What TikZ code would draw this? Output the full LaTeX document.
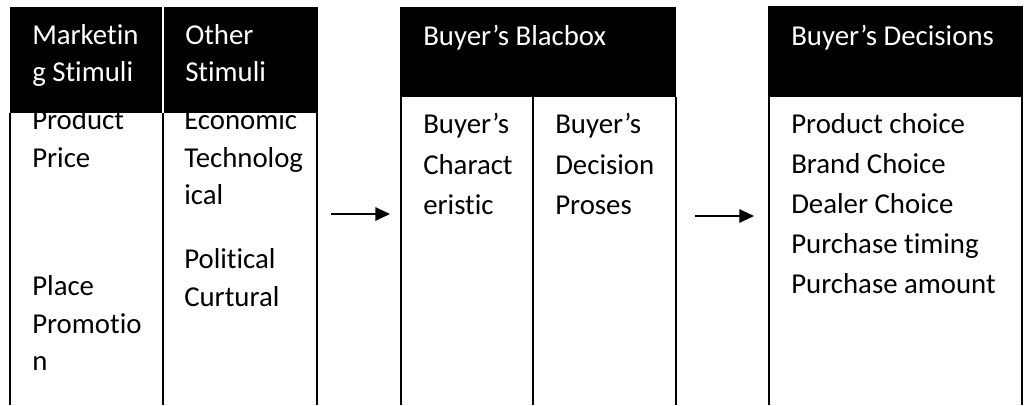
\documentclass[tikz,border=0pt]{standalone}
\usepackage{fontspec}
\setmainfont[Ligatures=CommonOff]{Carlito}
\usetikzlibrary{arrows.meta}
\begin{document}
\begin{tikzpicture}[x=0.75pt,y=-0.75pt,
  hdr/.style={fill=black},
  rulel/.style={line width=1.5pt,draw=black},
  hsep/.style={line width=1.5pt,draw=white},
  txt/.style={anchor=base west,inner sep=0pt,font=\fontsize{21.6}{26}\selectfont},
  htxt/.style={txt,text=white},
  btxt/.style={txt,text=black},
  flow/.style={line width=1.5pt,-{Triangle[length=11pt,width=10pt]}}
]
\useasboundingbox (0,0) rectangle (1024,405);

% ---- body texts (left table)
\node[btxt] (m1) at (32,129) {Product};
\node[btxt] (m2) at (32,167) {Price};
\node[btxt] (m3) at (32,295) {Place};
\node[btxt] (m4) at (32,333) {Promotio};
\node[btxt] (m5) at (32,370) {n};
\node[btxt] (o1) at (184,129) {Economic};
\node[btxt] (o2) at (184,167) {Technolog};
\node[btxt] (o3) at (184,204) {ical};
\node[btxt] (o4) at (184,268) {Political};
\node[btxt] (o5) at (184,306) {Curtural};

% ---- left table
\fill[hdr] (10,7) rectangle (317,113);
\draw[hsep] (163,7) -- (163,113);
\draw[rulel] (10,113) -- (10,405);
\draw[rulel] (163,113) -- (163,405);
\draw[rulel] (317,7) -- (317,405);
\node[htxt] (h1a) at (32,44) {Marketin};
\node[htxt] (h1b) at (32,81) {g Stimuli};
\node[htxt] (h2a) at (185,44) {Other};
\node[htxt] (h2b) at (185,81) {Stimuli};

% ---- middle table
\fill[hdr] (400,7) rectangle (676,97);
\draw[rulel] (401,97) -- (401,405);
\draw[rulel] (533,97) -- (533,405);
\draw[rulel] (676,97) -- (676,405);
\node[htxt] (h3) at (423,45) {Buyer’s Blacbox};
\node[btxt] (c1) at (423,133) {Buyer’s};
\node[btxt] (c2) at (423,174) {Charact};
\node[btxt] (c3) at (423,214) {eristic};
\node[btxt] (d1) at (555,133) {Buyer’s};
\node[btxt] (d2) at (555,174) {Decision};
\node[btxt] (d3) at (555,214) {Proses};

% ---- right table
\fill[hdr] (768,6) rectangle (1023,97);
\draw[rulel] (769,97) -- (769,405);
\draw[rulel] (1022,6) -- (1022,405);
\node[htxt] (h4) at (791,45) {Buyer’s Decisions};
\node[btxt] (r1) at (791,133) {Product choice};
\node[btxt] (r2) at (791,173) {Brand Choice};
\node[btxt] (r3) at (791,213) {Dealer Choice};
\node[btxt] (r4) at (791,253) {Purchase timing};
\node[btxt] (r5) at (791,293) {Purchase amount};

% ---- arrows
\coordinate (a1s) at (331,214);
\coordinate (a1e) at (390,214);
\coordinate (a2s) at (695,216);
\coordinate (a2e) at (754,216);
\draw[flow] (a1s) -- (a1e);
\draw[flow] (a2s) -- (a2e);
\end{tikzpicture}
\end{document}
